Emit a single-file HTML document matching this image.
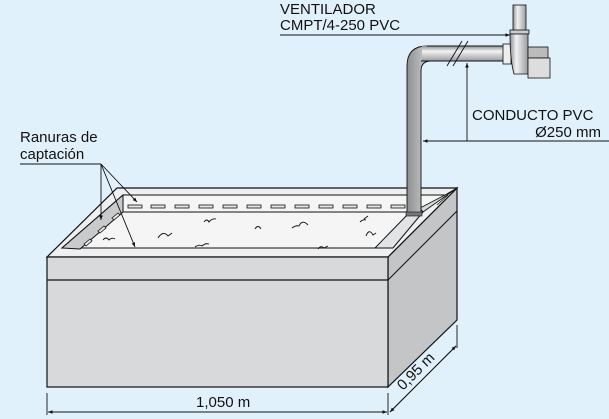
<!DOCTYPE html>
<html><head><meta charset="utf-8"><style>
html,body{margin:0;padding:0;background:#e0f1fb;}
svg{display:block;font-family:"Liberation Sans",sans-serif;}
</style></head><body>
<svg width="609" height="419" viewBox="0 0 609 419" xmlns="http://www.w3.org/2000/svg">
<defs>
<linearGradient id="pv" x1="0" x2="1" y1="0" y2="0"><stop offset="0" stop-color="#8d8f92"/><stop offset="0.35" stop-color="#f2f2f2"/><stop offset="1" stop-color="#9a9c9f"/></linearGradient>
<linearGradient id="ph" x1="0" x2="0" y1="0" y2="1"><stop offset="0" stop-color="#8d8f92"/><stop offset="0.35" stop-color="#f2f2f2"/><stop offset="1" stop-color="#9a9c9f"/></linearGradient>
<marker id="ar" markerWidth="6" markerHeight="6" refX="5" refY="3" orient="auto"><path d="M0,1 L5,3 L0,5z" fill="#111"/></marker>
</defs>
<rect width="609" height="419" fill="#e0f1fb"/>
<polygon points="388,257 457,188 457,320 388,387" fill="#c4c5c7" stroke="#111" stroke-width="1.2"/>
<line x1="388" y1="280" x2="457" y2="211" stroke="#111" stroke-width="1"/>
<polygon points="47,257 117,188 457,188 388,257" fill="#eeeff0" stroke="#111" stroke-width="1.2"/>
<polygon points="62,248 123,195 445,195 422,212 375,248" fill="#f5f5f5" stroke="#111" stroke-width="1"/>
<polygon points="123,195 123,212 80,249 62,248" fill="#c9cacc" stroke="#111" stroke-width="1"/>
<line x1="123" y1="212" x2="410" y2="212" stroke="#111" stroke-width="1"/>
<polygon points="410,212 423,212 393,248 375,248" fill="#e2e3e4" stroke="#111" stroke-width="1"/>
<polygon points="423,212 457,188 445,195 420,208" fill="#d8d9da" stroke="#111" stroke-width="0.8"/>
<line x1="437" y1="205" x2="448" y2="195" stroke="#111" stroke-width="0.8"/>
<g fill="#e6e6e6" stroke="#111" stroke-width="0.8">
<rect x="128" y="205" width="14" height="3"/><rect x="151" y="205" width="14" height="3"/><rect x="175" y="205" width="14" height="3"/><rect x="199" y="205" width="14" height="3"/><rect x="223" y="205" width="14" height="3"/><rect x="247" y="205" width="14" height="3"/><rect x="271" y="205" width="14" height="3"/><rect x="295" y="205" width="14" height="3"/><rect x="319" y="205" width="14" height="3"/><rect x="343" y="205" width="14" height="3"/><rect x="367" y="205" width="14" height="3"/><rect x="391" y="205" width="14" height="3"/>
</g>
<g fill="#e6e6e6" stroke="#111" stroke-width="0.8">
<polygon points="112,218 118,213 120,215 114,220"/><polygon points="98,231 104,226 106,228 100,233"/><polygon points="84,244 90,239 92,241 86,246"/>
</g>
<g fill="none" stroke="#111" stroke-width="0.9">
<path d="M204,222 q3,-4 5,0 q3,-4 7,-3"/><path d="M158,238 q5,-8 10,-2 l4,-3"/><path d="M195,247 q4,-3 7,-1 q3,-3 7,-2"/><path d="M255,229 q3,-5 6,0"/><path d="M292,228 q4,-3 7,-2 q3,-7 9,-1"/><path d="M318,249 q3,-4 6,-1 l4,-2"/><path d="M360,222 q3,-3 6,-2 M364,219 l4,-3"/><path d="M366,236 q3,-8 7,-1 l3,-2"/><path d="M103,240 q3,-4 6,0 q3,-3 6,-1"/>
</g>
<rect x="47" y="257" width="341" height="130" fill="#d8d9db" stroke="#111" stroke-width="1.2"/>
<line x1="47" y1="280" x2="388" y2="280" stroke="#111" stroke-width="1.2"/>
<path d="M407,215 L407,66 Q407,46 427,46 L503,46 L503,61 L431,61 Q421,61 421,71 L421,215 Z" fill="url(#pv)" stroke="#111" stroke-width="0.9"/>
<rect x="422" y="46" width="81" height="15" fill="url(#ph)"/>
<line x1="421" y1="61" x2="503" y2="61" stroke="#111" stroke-width="0.9"/><line x1="427" y1="46" x2="503" y2="46" stroke="#111" stroke-width="0.9"/>
<rect x="406" y="212" width="16" height="4" fill="#777" stroke="#111" stroke-width="0.6"/>
<line x1="447" y1="66" x2="462" y2="41" stroke="#111" stroke-width="0.9"/><line x1="453" y1="66" x2="468" y2="41" stroke="#111" stroke-width="0.9"/>
<rect x="513" y="5" width="13" height="27" fill="url(#pv)" stroke="#111" stroke-width="0.8"/>
<rect x="510" y="30" width="19" height="4" fill="#ccc" stroke="#111" stroke-width="0.8"/>
<rect x="503" y="44" width="8" height="20" fill="#eee" stroke="#111" stroke-width="0.8"/>
<path d="M510,34 L528,34 L528,74 L514,74 Q510,60 510,34Z" fill="url(#pv)" stroke="#111" stroke-width="0.8"/>
<rect x="528" y="47" width="20" height="11" fill="#bbb" stroke="#111" stroke-width="0.8"/>
<rect x="528" y="58" width="22" height="20" fill="#ddd" stroke="#111" stroke-width="0.8"/>
<g stroke="#111" stroke-width="0.9" fill="none">
<line x1="280" y1="35" x2="510" y2="35" marker-end="url(#ar)"/>
<line x1="609" y1="141" x2="423" y2="141" marker-end="url(#ar)"/>
<line x1="467" y1="141" x2="467" y2="63" marker-end="url(#ar)"/>
<line x1="20" y1="164" x2="101" y2="164"/>
<line x1="101" y1="164" x2="101" y2="220" marker-end="url(#ar)"/>
<line x1="101" y1="164" x2="137" y2="202" marker-end="url(#ar)"/>
<line x1="101" y1="164" x2="135" y2="247" marker-end="url(#ar)"/>
<line x1="47" y1="393" x2="47" y2="415"/><line x1="388" y1="393" x2="388" y2="415"/>
<line x1="48" y1="412" x2="387" y2="412" marker-end="url(#ar)"/>
<line x1="387" y1="412" x2="48" y2="412" marker-end="url(#ar)"/>
<line x1="457" y1="325" x2="457" y2="348"/>
<line x1="390" y1="412" x2="456" y2="346" marker-end="url(#ar)"/>
<line x1="456" y1="346" x2="390" y2="412" marker-end="url(#ar)"/>
</g>
<g font-size="15" fill="#111">
<text x="280" y="14">VENTILADOR</text>
<text x="280" y="30">CMPT/4-250 PVC</text>
<text x="472" y="120">CONDUCTO PVC</text>
<text x="601" y="137" text-anchor="end">Ø250 mm</text>
<text x="20" y="142">Ranuras de</text>
<text x="20" y="159">captación</text>
<text x="196" y="407">1,050 m</text>
<text x="0" y="0" transform="translate(403,391) rotate(-45)">0,95 m</text>
</g>
</svg>
</body></html>
